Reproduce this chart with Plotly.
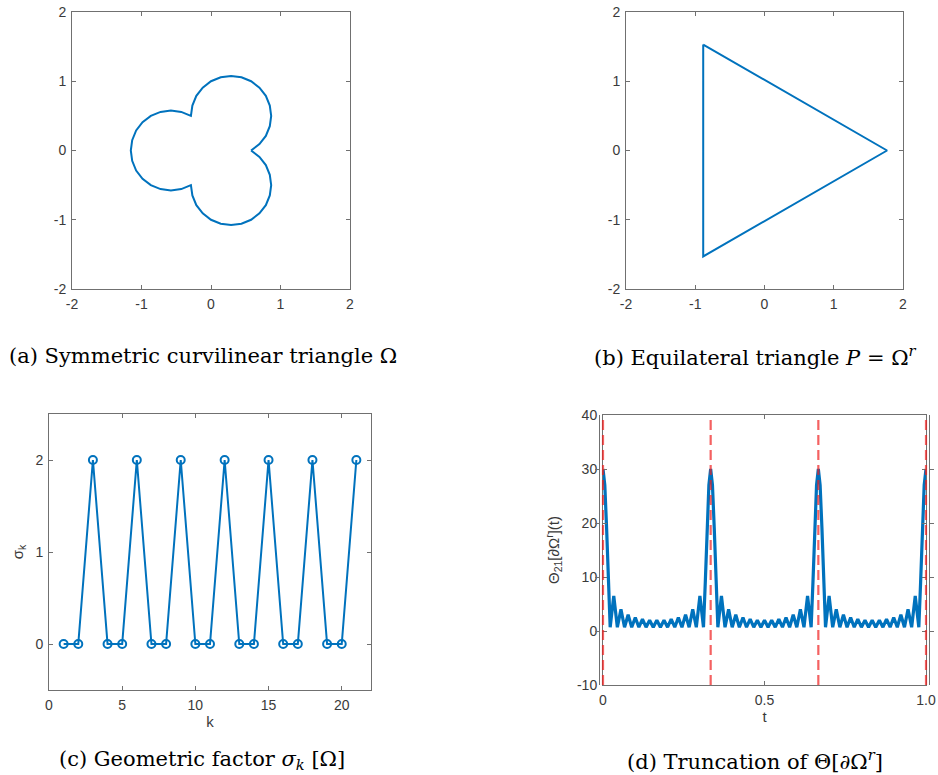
import plotly.graph_objects as go

# ---------------- data ----------------
# (a) outline of the symmetric curvilinear triangle (three circular lobes)
omega_x = [0.577, 0.697, 0.789, 0.846, 0.866, 0.846, 0.789, 0.697, 0.577, 0.438, 0.289, 0.140, 0.0,
           -0.119, -0.211, -0.268, -0.289,
           -0.428, -0.577, -0.726, -0.866, -0.985, -1.077, -1.134, -1.154, -1.134, -1.077, -0.985,
           -0.866, -0.726, -0.577, -0.428, -0.289,
           -0.268, -0.211, -0.119, 0.0, 0.140, 0.289, 0.438, 0.577, 0.697, 0.789, 0.846, 0.866,
           0.846, 0.789, 0.697, 0.577]
omega_y = [0.0, 0.092, 0.211, 0.351, 0.5, 0.649, 0.789, 0.908, 1.0, 1.057, 1.077, 1.057, 1.0,
           0.908, 0.789, 0.649, 0.5,
           0.557, 0.577, 0.557, 0.5, 0.408, 0.289, 0.149, 0.0, -0.149, -0.289, -0.408,
           -0.5, -0.557, -0.577, -0.557, -0.5,
           -0.649, -0.789, -0.908, -1.0, -1.057, -1.077, -1.057, -1.0, -0.908, -0.789, -0.649, -0.5,
           -0.351, -0.211, -0.092, 0.0]

# (b) equilateral triangle vertices (closed)
tri_x = [-0.885, 1.77, -0.885, -0.885]
tri_y = [1.53, 0.0, -1.53, 1.53]

# (c) geometric factor sigma_k
k_vals = [1, 2, 3, 4, 5, 6, 7, 8, 9, 10, 11, 12, 13, 14, 15, 16, 17, 18, 19, 20, 21]
sigma_vals = [0, 0, 2, 0, 0, 2, 0, 0, 2, 0, 0, 2, 0, 0, 2, 0, 0, 2, 0, 0, 2]

# (d) truncated Theta curve
theta_t = [0.0, 0.0056, 0.0111, 0.0167, 0.0222, 0.0333, 0.0444, 0.0556, 0.0667, 0.0778, 0.0889,
           0.1, 0.1111, 0.1222, 0.1333, 0.1444, 0.1556, 0.1667, 0.1778, 0.1889, 0.2, 0.2111,
           0.2222, 0.2333, 0.2444, 0.2556, 0.2667, 0.2778, 0.2889, 0.3, 0.3111, 0.3167, 0.3222,
           0.3278,
           0.3333, 0.3389, 0.3444, 0.35, 0.3556, 0.3667, 0.3778, 0.3889, 0.4, 0.4111, 0.4222,
           0.4333, 0.4444, 0.4556, 0.4667, 0.4778, 0.4889, 0.5, 0.5111, 0.5222, 0.5333, 0.5444,
           0.5556, 0.5667, 0.5778, 0.5889, 0.6, 0.6111, 0.6222, 0.6333, 0.6444, 0.65, 0.6556,
           0.6611,
           0.6667, 0.6722, 0.6778, 0.6833, 0.6889, 0.7, 0.7111, 0.7222, 0.7333, 0.7444, 0.7556,
           0.7667, 0.7778, 0.7889, 0.8, 0.8111, 0.8222, 0.8333, 0.8444, 0.8556, 0.8667, 0.8778,
           0.8889, 0.9, 0.9111, 0.9222, 0.9333, 0.9444, 0.9556, 0.9667, 0.9778, 0.9833, 0.9889,
           0.9944,
           1.0]
theta_v = [30, 27.0, 19.1, 9.0, 0.7, 6.5, 0.7, 4.0, 0.7, 3.0, 0.7, 2.5, 0.7, 2.2, 0.7, 2.0, 0.7,
           2.0, 0.7, 2.0, 0.7, 2.2, 0.7, 2.5, 0.7, 3.0, 0.7, 4.0, 0.7, 6.5, 0.7, 9.0, 19.1, 27.0,
           30, 27.0, 19.1, 9.0, 0.7, 6.5, 0.7, 4.0, 0.7, 3.0, 0.7, 2.5, 0.7, 2.2, 0.7, 2.0, 0.7,
           2.0, 0.7, 2.0, 0.7, 2.2, 0.7, 2.5, 0.7, 3.0, 0.7, 4.0, 0.7, 6.5, 0.7, 9.0, 19.1, 27.0,
           30, 27.0, 19.1, 9.0, 0.7, 6.5, 0.7, 4.0, 0.7, 3.0, 0.7, 2.5, 0.7, 2.2, 0.7, 2.0, 0.7,
           2.0, 0.7, 2.0, 0.7, 2.2, 0.7, 2.5, 0.7, 3.0, 0.7, 4.0, 0.7, 6.5, 0.7, 9.0, 19.1, 27.0,
           30]
dashed_t = [0.0, 0.3333, 0.6667, 1.0]

ticks_pm2 = [-2, -1, 0, 1, 2]
ticks_pm2_text = ["-2", "-1", "0", "1", "2"]
k_ticks = [0, 5, 10, 15, 20]
sigma_ticks = [0, 1, 2]
t_ticks = [0, 0.5, 1.0]
t_ticks_text = ["0", "0.5", "1.0"]
theta_ticks = [-10, 0, 10, 20, 30, 40]
theta_ticks_text = ["-10", "0", "10", "20", "30", "40"]

captions = [
    "(a) Symmetric curvilinear triangle Ω",
    "(b) Equilateral triangle <i>P</i> = Ω<sup><i>r</i></sup>",
    "(c) Geometric factor <i>σ<sub>k</sub></i> [Ω]",
    "(d) Truncation of Θ[∂Ω<sup><i>r</i></sup>]",
]

# ---------------- styling ----------------
W, H = 938, 775
BLUE = "#0072BD"
AX = "#707070"
SANS = "Liberation Sans, Arial, sans-serif"
TICKFONT = dict(family=SANS, size=14, color="#3a3a3a")


def px_x(a, b):
    return [a / W, b / W]


def px_y(top, bottom):
    return [1 - bottom / H, 1 - top / H]


fig = go.Figure()

fig.add_trace(go.Scatter(x=omega_x, y=omega_y, mode="lines", line=dict(color=BLUE, width=2),
                         xaxis="x", yaxis="y", showlegend=False))
fig.add_trace(go.Scatter(x=tri_x, y=tri_y, mode="lines", line=dict(color=BLUE, width=2),
                         xaxis="x2", yaxis="y2", showlegend=False))
fig.add_trace(go.Scatter(x=k_vals, y=sigma_vals, mode="lines+markers",
                         line=dict(color=BLUE, width=2),
                         marker=dict(symbol="circle-open", size=8, color=BLUE,
                                     line=dict(width=2, color=BLUE)),
                         xaxis="x3", yaxis="y3", showlegend=False, cliponaxis=False))
fig.add_trace(go.Scatter(x=theta_t, y=theta_v, mode="lines", line=dict(color=BLUE, width=3.2),
                         xaxis="x4", yaxis="y4", showlegend=False))

# dashed separators: drawn on an overlay x-axis that is 3 px wider on each side, with its
# range widened by the same amount so t values land exactly on the (d) axis positions
vx, vy = [], []
for t in dashed_t:
    vx += [t, t, None]
    vy += [-10, 40, None]
fig.add_trace(go.Scatter(x=vx, y=vy, mode="lines",
                         line=dict(color="rgba(240,30,30,0.7)", width=2.2, dash="10px,5px"),
                         xaxis="x5", yaxis="y4", showlegend=False))


def axis(domain, rng, tickvals, ticktext=None, anchor=None, title=None, standoff=None,
         labelgap=0):
    d = dict(domain=domain, range=rng, tickvals=tickvals, showline=True, linecolor=AX,
             linewidth=1, mirror="allticks", ticks="inside", ticklen=4, tickcolor=AX,
             showgrid=False, zeroline=False, tickfont=TICKFONT, anchor=anchor,
             fixedrange=True, automargin=False, ticklabelstandoff=labelgap)
    if ticktext is not None:
        d["ticktext"] = ticktext
    if title is not None:
        d["title"] = dict(text=title, font=dict(family=SANS, size=15, color="#3a3a3a"),
                          standoff=standoff)
    return d


D_L, D_R, PAD = 603, 926, 3
pad_t = PAD / (D_R - D_L)

fig.update_layout(
    width=W, height=H, margin=dict(l=0, r=0, t=0, b=0),
    paper_bgcolor="white", plot_bgcolor="rgba(0,0,0,0)",
    xaxis=axis(px_x(72, 350), [-2, 2], ticks_pm2, ticks_pm2_text, "y", labelgap=2),
    yaxis=axis(px_y(12, 289), [-2, 2], ticks_pm2, ticks_pm2_text, "x", labelgap=2),
    xaxis2=axis(px_x(626, 903), [-2, 2], ticks_pm2, ticks_pm2_text, "y2", labelgap=2),
    yaxis2=axis(px_y(12, 289), [-2, 2], ticks_pm2, ticks_pm2_text, "x2", labelgap=2),
    xaxis3=axis(px_x(49, 371), [0, 22], k_ticks, None, "y3", "k", 4, labelgap=2),
    yaxis3=axis(px_y(414, 690), [-0.5, 2.5], sigma_ticks, None, "x3", "σ<sub>k</sub>", 8,
                labelgap=2),
    xaxis4=axis(px_x(D_L, D_R), [0, 1], t_ticks, t_ticks_text, "y4", "t", 4, labelgap=2),
    yaxis4=axis(px_y(415, 685), [-10, 40], theta_ticks, theta_ticks_text, "x4",
                "Θ<sub>21</sub>[∂Ω<sup>r</sup>](t)", 13, labelgap=2),
    xaxis5=dict(domain=px_x(D_L - PAD, D_R + PAD), range=[-pad_t, 1 + pad_t], visible=False,
                fixedrange=True, automargin=False, anchor="y4", showgrid=False, zeroline=False),
)

cap_pos = [(203, 356), (755, 356), (202, 760), (755, 760)]
for txt, (cx, cy) in zip(captions, cap_pos):
    fig.add_annotation(text=txt, x=cx / W, y=1 - cy / H, xref="paper", yref="paper",
                       xanchor="center", yanchor="middle", showarrow=False,
                       font=dict(family="DejaVu Serif, Liberation Serif, serif", size=21,
                                 color="black"))

fig.write_html("out.html", config={"displayModeBar": False},
               post_script="document.body.style.margin='0px';")
